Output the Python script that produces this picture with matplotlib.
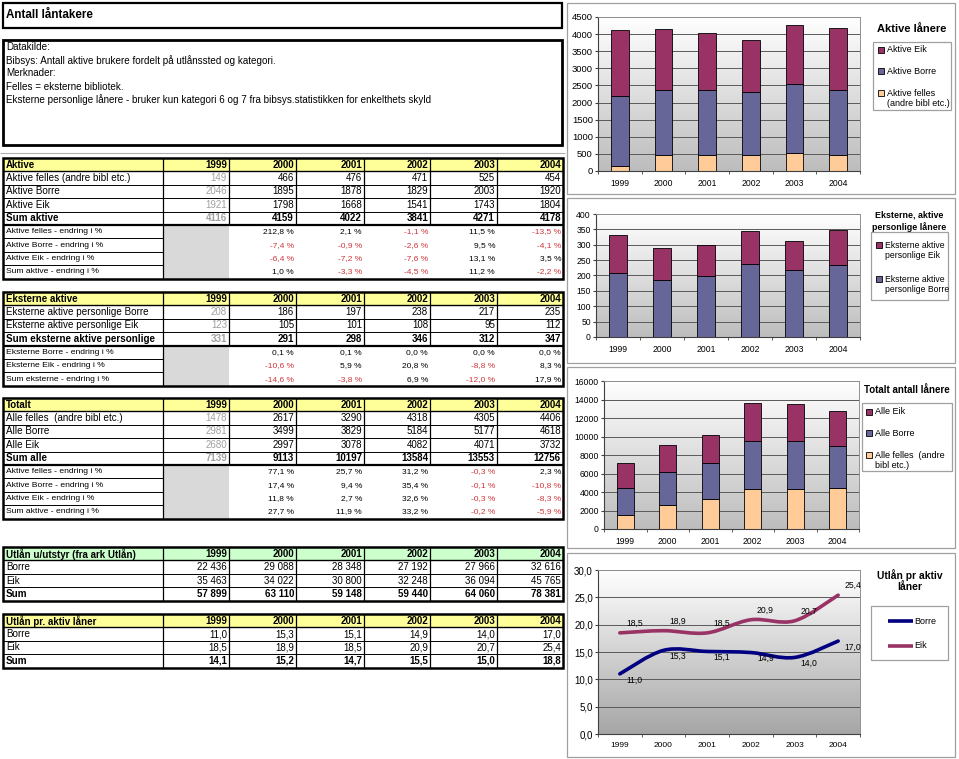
import numpy as np
import matplotlib
matplotlib.use('Agg')
import matplotlib.pyplot as plt
from matplotlib.patches import Rectangle, PathPatch
from matplotlib.path import Path
from matplotlib.colors import LinearSegmentedColormap

plt.rcParams['font.family'] = ['Liberation Sans', 'DejaVu Sans']

# ---- data ----
years = ['1999', '2000', '2001', '2002', '2003', '2004']

aktive_felles = [149, 466, 476, 471, 525, 454]
aktive_borre = [2046, 1895, 1878, 1829, 2003, 1920]
aktive_eik = [1921, 1798, 1668, 1541, 1743, 1804]
sum_aktive = [4116, 4159, 4022, 3841, 4271, 4178]
pct_aktive_felles = [212.8, 2.1, -1.1, 11.5, -13.5]
pct_aktive_borre = [-7.4, -0.9, -2.6, 9.5, -4.1]
pct_aktive_eik = [-6.4, -7.2, -7.6, 13.1, 3.5]
pct_sum_aktive = [1.0, -3.3, -4.5, 11.2, -2.2]

eksterne_borre = [208, 186, 197, 238, 217, 235]
eksterne_eik = [123, 105, 101, 108, 95, 112]
sum_eksterne = [331, 291, 298, 346, 312, 347]
pct_eksterne_borre = [0.1, 0.1, 0.0, 0.0, 0.0]
pct_eksterne_eik = [-10.6, 5.9, 20.8, -8.8, 8.3]
pct_sum_eksterne = [-14.6, -3.8, 6.9, -12.0, 17.9]

alle_felles = [1478, 2617, 3290, 4318, 4305, 4406]
alle_borre = [2981, 3499, 3829, 5184, 5177, 4618]
alle_eik = [2680, 2997, 3078, 4082, 4071, 3732]
sum_alle = [7139, 9113, 10197, 13584, 13553, 12756]
pct_alle_felles = [77.1, 25.7, 31.2, -0.3, 2.3]
pct_alle_borre = [17.4, 9.4, 35.4, -0.1, -10.8]
pct_alle_eik = [11.8, 2.7, 32.6, -0.3, -8.3]
pct_sum_alle = [27.7, 11.9, 33.2, -0.2, -5.9]

utlan_borre = [22436, 29088, 28348, 27192, 27966, 32616]
utlan_eik = [35463, 34022, 30800, 32248, 36094, 45765]
utlan_sum = [57899, 63110, 59148, 59440, 64060, 78381]

per_laner_borre = [11.0, 15.3, 15.1, 14.9, 14.0, 17.0]
per_laner_eik = [18.5, 18.9, 18.5, 20.9, 20.7, 25.4]
per_laner_sum = [14.1, 15.2, 14.7, 15.5, 15.0, 18.8]

info_lines = ['Datakilde:',
              'Bibsys: Antall aktive brukere fordelt på utlånssted og kategori.',
              'Merknader:',
              'Felles = eksterne bibliotek.',
              'Eksterne personlige lånere - bruker kun kategori 6 og 7 fra bibsys.statistikken for enkelthets skyld']

C_EIK = '#993366'
C_BORRE = '#666699'
C_FELLES = '#FFCC99'
C_LINE_BORRE = '#000080'
RED = '#D0343A'
GREY_TXT = '#A0A0A0'
YELLOW = '#FFFF99'
GREEN = '#CCFFCC'

W, H = 959, 759
fig = plt.figure(figsize=(W / 100, H / 100), dpi=100)
bg = fig.add_axes([0, 0, 1, 1])
bg.set_xlim(0, W)
bg.set_ylim(H, 0)
bg.axis('off')


def fmt_pct(v):
    return f'{v:.1f}'.replace('.', ',') + ' %'


def fmt_dec(v):
    return f'{v:.1f}'.replace('.', ',')


def fmt_thou(v):
    return f'{v:,}'.replace(',', ' ')


def hline(y, x0, x1, lw=0.7, color='black'):
    bg.plot([x0, x1], [y, y], color=color, lw=lw, solid_capstyle='butt', zorder=3)


def vline(x, y0, y1, lw=0.7, color='black'):
    bg.plot([x, x], [y0, y1], color=color, lw=lw, solid_capstyle='butt', zorder=3)


# ---- title / info boxes ----
bg.add_patch(Rectangle((3, 3), 559, 25, fill=False, ec='black', lw=1.6, zorder=3))
bg.text(6, 15, 'Antall låntakere', fontsize=8.4, fontweight='bold', va='center')
bg.add_patch(Rectangle((3, 40), 559, 105, fill=False, ec='black', lw=2, zorder=3))
for k, line in enumerate(info_lines):
    bg.text(6, 47.5 + k * 13, line, fontsize=7.1, va='center')
hline(153, 0, 565, lw=0.8, color='#B0B0B0')

# ---- tables ----
COLS = [3, 163, 229, 296, 364, 430, 497, 563]
RH = 13.4


def draw_table(top, title, hdr_color, rows, pct_rows=(), first_grey=True, fmt=str):
    n = len(rows)
    bot_data = top + RH * (1 + n)
    bottom = bot_data + RH * len(pct_rows)
    bg.add_patch(Rectangle((COLS[0], top), COLS[-1] - COLS[0], RH, fc=hdr_color, ec='none', zorder=1))
    cy = top + RH / 2
    bg.text(COLS[0] + 3, cy, title, fontsize=7, fontweight='bold', va='center')
    for j, yr in enumerate(years):
        bg.text(COLS[j + 2] - 2, cy, yr, fontsize=7, fontweight='bold', va='center', ha='right')
    for i, (label, vals, bold) in enumerate(rows):
        cy = top + RH * (i + 1.5)
        w = 'bold' if bold else 'normal'
        bg.text(COLS[0] + 3, cy, label, fontsize=7.1, fontweight=w, va='center')
        for j, v in enumerate(vals):
            c = GREY_TXT if (first_grey and j == 0) else 'black'
            bg.text(COLS[j + 2] - 2, cy, fmt(v), fontsize=7, fontweight=w, color=c,
                    va='center', ha='right')
    for i in range(1, n + 1):
        hline(top + RH * i, COLS[0], COLS[-1], lw=1.0 if i == 1 else 0.7)
    for x in COLS[1:-1]:
        vline(x, top, bot_data, lw=0.9)
    if pct_rows:
        hline(bot_data, COLS[0], COLS[-1], lw=1.6)
        bg.add_patch(Rectangle((COLS[1], bot_data), COLS[2] - COLS[1], bottom - bot_data,
                               fc='#D9D9D9', ec='none', zorder=1))
        vline(COLS[1], bot_data, bottom, lw=0.9)
        for k, (label, vals) in enumerate(pct_rows):
            cy = bot_data + RH * (k + 0.5)
            bg.text(COLS[0] + 3, cy, label, fontsize=6.1, va='center')
            for j, v in enumerate(vals):
                bg.text(COLS[j + 3] - 2, cy, fmt_pct(v), fontsize=6, va='center', ha='right',
                        color=RED if v < 0 else 'black')
            if k > 0:
                hline(bot_data + RH * k, COLS[0], COLS[1], lw=0.7)
    bg.add_patch(Rectangle((COLS[0], top), COLS[-1] - COLS[0], bottom - top,
                           fill=False, ec='black', lw=1.8, zorder=4))


draw_table(158, 'Aktive', YELLOW,
           [('Aktive felles (andre bibl etc.)', aktive_felles, False),
            ('Aktive Borre', aktive_borre, False),
            ('Aktive Eik', aktive_eik, False),
            ('Sum aktive', sum_aktive, True)],
           [('Aktive felles - endring i %', pct_aktive_felles),
            ('Aktive Borre - endring i %', pct_aktive_borre),
            ('Aktive Eik - endring i %', pct_aktive_eik),
            ('Sum aktive - endring i %', pct_sum_aktive)])

draw_table(292, 'Eksterne aktive', YELLOW,
           [('Eksterne aktive personlige Borre', eksterne_borre, False),
            ('Eksterne aktive personlige Eik', eksterne_eik, False),
            ('Sum eksterne aktive personlige', sum_eksterne, True)],
           [('Eksterne Borre - endring i %', pct_eksterne_borre),
            ('Eksterne Eik - endring i %', pct_eksterne_eik),
            ('Sum eksterne - endring i %', pct_sum_eksterne)])

draw_table(398, 'Totalt', YELLOW,
           [('Alle felles  (andre bibl etc.)', alle_felles, False),
            ('Alle Borre', alle_borre, False),
            ('Alle Eik', alle_eik, False),
            ('Sum alle', sum_alle, True)],
           [('Aktive felles - endring i %', pct_alle_felles),
            ('Aktive Borre - endring i %', pct_alle_borre),
            ('Aktive Eik - endring i %', pct_alle_eik),
            ('Sum aktive - endring i %', pct_sum_alle)])

draw_table(547, 'Utlån u/utstyr (fra ark Utlån)', GREEN,
           [('Borre', utlan_borre, False),
            ('Eik', utlan_eik, False),
            ('Sum', utlan_sum, True)],
           first_grey=False, fmt=fmt_thou)

draw_table(614, 'Utlån pr. aktiv låner', YELLOW,
           [('Borre', per_laner_borre, False),
            ('Eik', per_laner_eik, False),
            ('Sum', per_laner_sum, True)],
           first_grey=False, fmt=fmt_dec)

# ---- chart frames ----
for (y0, y1) in [(3, 194), (198, 363), (367, 548), (553, 757)]:
    bg.add_patch(Rectangle((567, y0), 388, y1 - y0, fill=False, ec='#A0A0A0', lw=0.9, zorder=3))


def ax_px(x0, y0, x1, y1):
    return fig.add_axes([x0 / W, 1 - y1 / H, (x1 - x0) / W, (y1 - y0) / H])


def style_chart(ax, ymax, step, bottom_col='#BDBDBD', yfmt=None, ysize=6.2, xsize=6.2):
    cmap = LinearSegmentedColormap.from_list('g', [bottom_col, 'white'])
    grad = np.linspace(1, 0, 256).reshape(-1, 1)
    ax.imshow(grad, extent=[0, 1, 0, 1], transform=ax.transAxes, aspect='auto',
              cmap=cmap, vmin=0, vmax=1, zorder=0, origin='upper')
    ax.set_xlim(-0.5, 5.5)
    ax.set_ylim(0, ymax)
    ticks = np.arange(0, ymax + step / 2, step)
    ax.set_yticks(ticks)
    if yfmt:
        ax.set_yticklabels([yfmt(t) for t in ticks])
    ax.yaxis.grid(True, color='#5A5A5A', lw=0.7)
    ax.set_axisbelow(True)
    ax.set_xticks(range(6))
    ax.set_xticklabels(years)
    ax.set_xticks(np.arange(-0.5, 6, 1), minor=True)
    ax.tick_params(axis='x', which='major', length=0, labelsize=xsize, pad=6)
    ax.tick_params(axis='x', which='minor', length=2.2, direction='out', color='#404040')
    ax.tick_params(axis='y', length=2.2, labelsize=ysize, pad=1.5, color='#404040')
    for s in ['top', 'right']:
        ax.spines[s].set_color('#909090')
        ax.spines[s].set_linewidth(0.7)
    for s in ['left', 'bottom']:
        ax.spines[s].set_color('#404040')
        ax.spines[s].set_linewidth(0.8)


def legend_box(x0, y0, x1, y1, title_lines, title_y, entries, marker='square', tsize=7.3, lsize=6.5):
    bg.add_patch(Rectangle((x0, y0), x1 - x0, y1 - y0, fc='white', ec='#A0A0A0', lw=0.9, zorder=3))
    cx = (x0 + x1) / 2
    for k, t in enumerate(title_lines):
        bg.text(cx, title_y + k * 12.5, t, fontsize=tsize, fontweight='bold', ha='center', va='center')
    for (ey, label, color, tx) in entries:
        if marker == 'square':
            bg.add_patch(Rectangle((tx - 9, ey - 3), 6, 6, fc=color, ec='black', lw=0.6, zorder=4))
        else:
            bg.plot([tx - 26, tx - 1], [ey, ey], color=color, lw=2.6, solid_capstyle='butt', zorder=4)
        for m, part in enumerate(label.split('\n')):
            bg.text(tx, ey + m * 11, part, fontsize=lsize, va='center', zorder=5)


x = np.arange(len(years))
bw = 0.4
ekw = dict(edgecolor='black', linewidth=0.6, zorder=2)

# chart 1: Aktive lånere
ax1 = ax_px(598, 17, 860, 171)
style_chart(ax1, 4500, 500, ysize=6.8)
b1 = np.array(aktive_felles)
b2 = b1 + np.array(aktive_borre)
ax1.bar(x, aktive_felles, bw, color=C_FELLES, **ekw)
ax1.bar(x, aktive_borre, bw, bottom=b1, color=C_BORRE, **ekw)
ax1.bar(x, aktive_eik, bw, bottom=b2, color=C_EIK, **ekw)
legend_box(873, 42, 951, 110, ['Aktive lånere'], 29,
           [(50, 'Aktive Eik', C_EIK, 887),
            (71, 'Aktive Borre', C_BORRE, 887),
            (93, 'Aktive felles\n(andre bibl etc.)', C_FELLES, 887)], tsize=8)

# chart 2: Eksterne, aktive personlige lånere
ax2 = ax_px(596, 214, 860, 337)
style_chart(ax2, 400, 50)
ax2.bar(x, eksterne_borre, bw, color=C_BORRE, **ekw)
ax2.bar(x, eksterne_eik, bw, bottom=eksterne_borre, color=C_EIK, **ekw)
legend_box(871, 232, 948, 300, ['Eksterne, aktive', 'personlige lånere'], 215,
           [(245, 'Eksterne aktive\npersonlige Eik', C_EIK, 885),
            (279, 'Eksterne aktive\npersonlige Borre', C_BORRE, 885)], tsize=6.4, lsize=6.2)

# chart 3: Totalt antall lånere
ax3 = ax_px(604, 381, 859, 529)
style_chart(ax3, 16000, 2000)
t1 = np.array(alle_felles)
t2 = t1 + np.array(alle_borre)
ax3.bar(x, alle_felles, bw, color=C_FELLES, **ekw)
ax3.bar(x, alle_borre, bw, bottom=t1, color=C_BORRE, **ekw)
ax3.bar(x, alle_eik, bw, bottom=t2, color=C_EIK, **ekw)
legend_box(862, 403, 952, 471, ['Totalt antall lånere'], 390,
           [(412, 'Alle Eik', C_EIK, 875),
            (433, 'Alle Borre', C_BORRE, 875),
            (455, 'Alle felles  (andre\nbibl etc.)', C_FELLES, 875)], tsize=7)


# chart 4: Utlån pr aktiv låner (smoothed lines)
def smooth_path(xs, ys):
    pts = np.column_stack([xs, ys]).astype(float)
    verts = [pts[0]]
    codes = [Path.MOVETO]
    n = len(pts)
    for i in range(n - 1):
        p0 = pts[i - 1] if i > 0 else pts[i]
        p1, p2 = pts[i], pts[i + 1]
        p3 = pts[i + 2] if i + 2 < n else pts[i + 1]
        verts += [p1 + (p2 - p0) / 6, p2 - (p3 - p1) / 6, p2]
        codes += [Path.CURVE4] * 3
    return Path(verts, codes)


ax4 = ax_px(598, 570, 860, 734)
style_chart(ax4, 30, 5, bottom_col='#A6A6A6', yfmt=lambda t: fmt_dec(t), ysize=7, xsize=6)
for vals, col, dy in [(per_laner_borre, C_LINE_BORRE, -4.5), (per_laner_eik, C_EIK, 7)]:
    ax4.add_patch(PathPatch(smooth_path(x, vals), fill=False, edgecolor=col, lw=2.6,
                            capstyle='round', zorder=3))
    for i, v in enumerate(vals):
        ax4.annotate(fmt_dec(v), (i, v), xytext=(10.5, dy), textcoords='offset points',
                     fontsize=6.2, ha='center', va='center', zorder=4)
legend_box(871, 606, 948, 660, ['Utlån pr aktiv', 'låner'], 575,
           [(621, 'Borre', C_LINE_BORRE, 914),
            (646, 'Eik', C_EIK, 914)], marker='line', tsize=7.4)

fig.savefig('out.png', dpi=100)
